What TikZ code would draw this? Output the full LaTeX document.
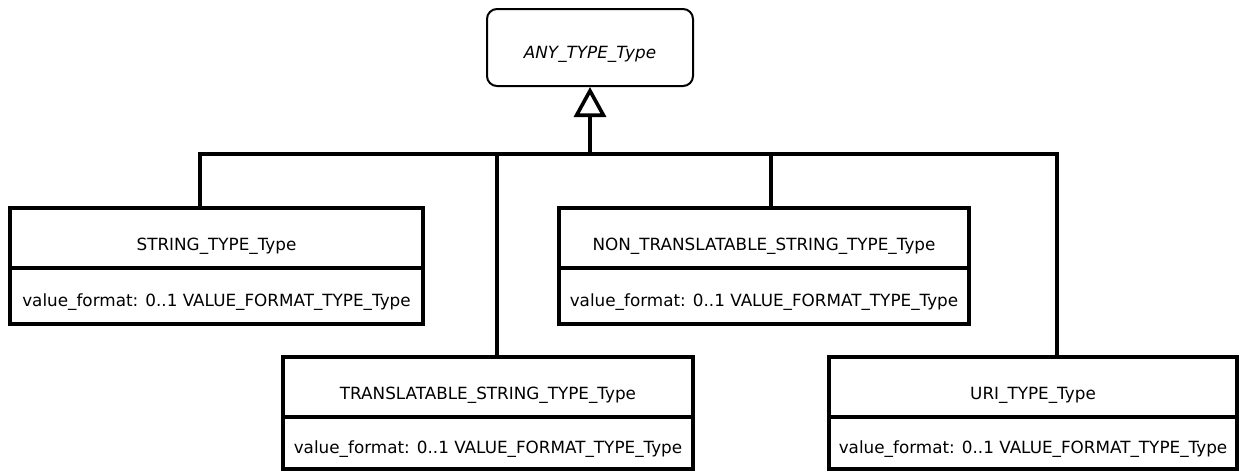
\documentclass[tikz,border=0pt]{standalone}
\usepackage{fontspec}
\setmainfont{DejaVu Sans}
\usetikzlibrary{arrows.meta,positioning}

\begin{document}
\begin{tikzpicture}[x=0.5pt,y=-0.5pt,font=\fontsize{8.4pt}{10pt}\selectfont,
  cls/.style={draw,line width=1.8pt,outer sep=0pt,minimum width=205pt,minimum height=30pt,text height=12pt,text depth=0pt},
  attr/.style={cls,minimum height=28pt,text height=10pt},
  abstr/.style={draw,line width=1pt,rounded corners=5pt,minimum width=103pt,minimum height=38.5pt,text height=10.5pt,text depth=0pt,font=\fontsize{8.4pt}{10pt}\selectfont\itshape},
  link/.style={line width=1.8pt},
  gen/.style={line width=1.8pt,-{Triangle[open,length=15pt,width=16pt]}}]
\useasboundingbox (0,0) rectangle (1241,472);
\node[abstr] (any) at (590,47.5) {ANY\_TYPE\_Type};
\node[cls,minimum width=206.5pt] (strT) at (216.5,238) {STRING\_TYPE\_Type};
\node[attr,minimum width=206.5pt,below=0pt of strT] (strA) {value\_format: 0..1 VALUE\_FORMAT\_TYPE\_Type};
\node[cls] (nonT) at (764,238) {NON\_TRANSLATABLE\_STRING\_TYPE\_Type};
\node[attr,below=0pt of nonT] (nonA) {value\_format: 0..1 VALUE\_FORMAT\_TYPE\_Type};
\node[cls] (trT) at (488,387) {TRANSLATABLE\_STRING\_TYPE\_Type};
\node[attr,minimum height=26pt,below=0pt of trT] (trA) {value\_format: 0..1 VALUE\_FORMAT\_TYPE\_Type};
\node[cls,minimum width=204pt] (uriT) at (1033,387) {URI\_TYPE\_Type};
\node[attr,minimum width=204pt,minimum height=26pt,below=0pt of uriT] (uriA) {value\_format: 0..1 VALUE\_FORMAT\_TYPE\_Type};
% generalisation tree
\coordinate (hub) at (590,154);
\draw[gen] (hub) -- (any.south);
\draw[link] ([xshift=-8.25pt]strT.north) |- (hub) -| ([xshift=12pt]uriT.north);
\draw[link] ([xshift=4.5pt]trT.north) -- ([xshift=4.5pt]trT.north |- hub);
\draw[link] ([xshift=3.5pt]nonT.north) -- ([xshift=3.5pt]nonT.north |- hub);
\end{tikzpicture}
\end{document}
